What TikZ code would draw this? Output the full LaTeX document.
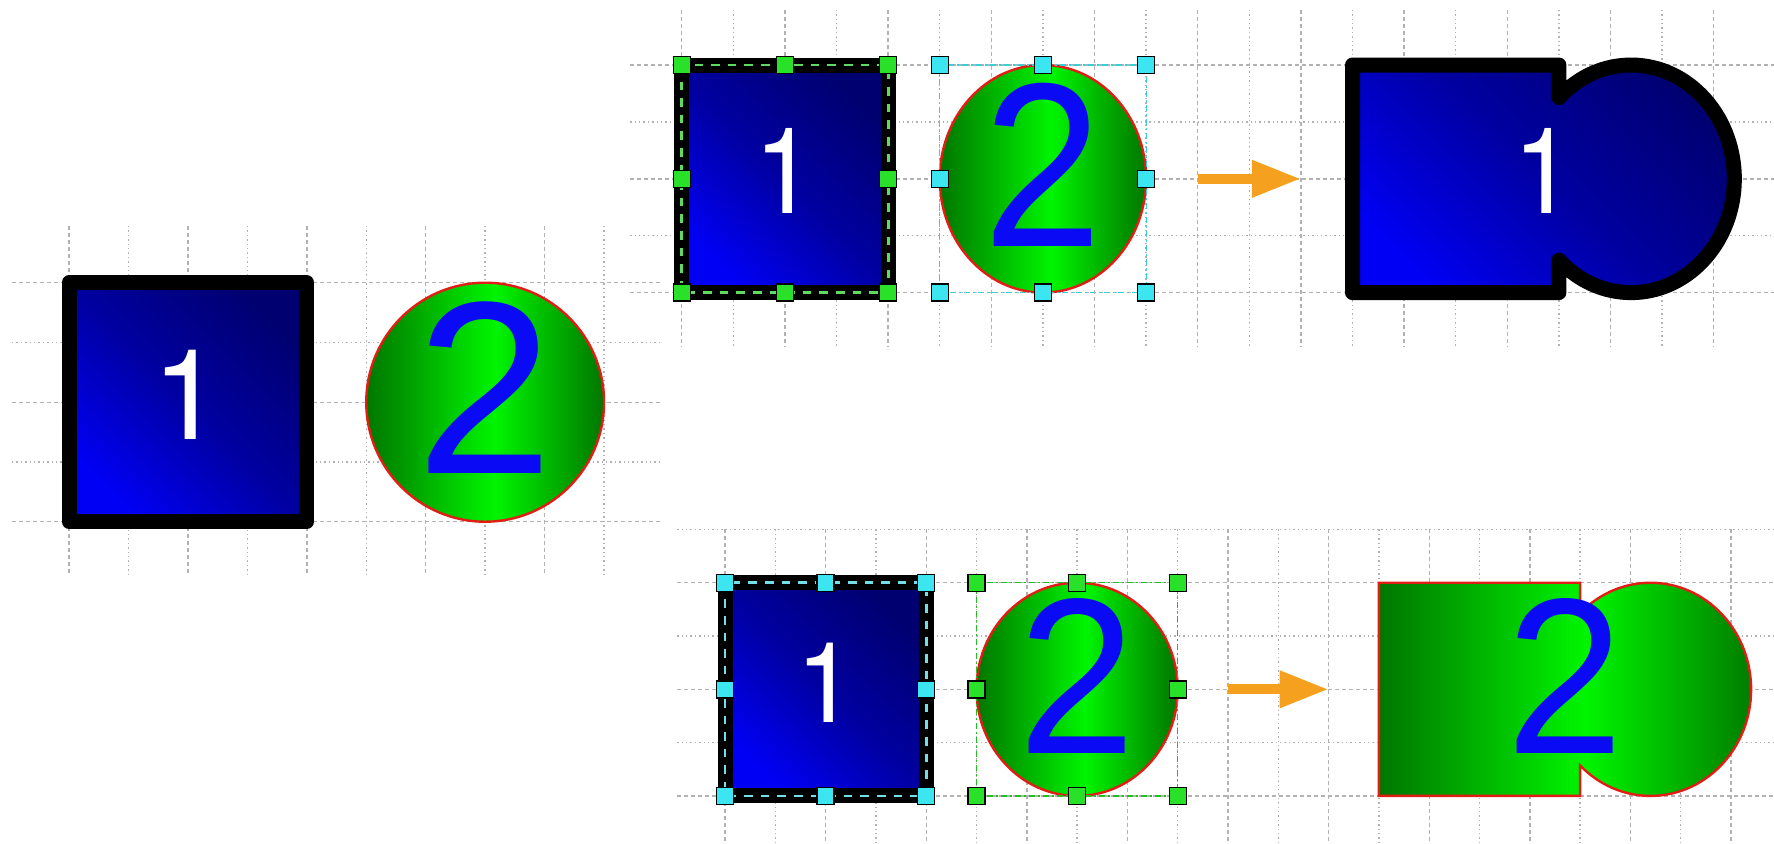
\documentclass[tikz,border=0pt]{standalone}
\usepackage{fontspec}
\usepackage{graphicx}
\usetikzlibrary{arrows.meta}
\setmainfont{TeX Gyre Heros}
\newfontfamily\onefont{TeX Gyre Heros}
\newfontfamily\twofont{Liberation Sans}
\definecolor{gridc}{RGB}{178,178,178}
\definecolor{bbright}{RGB}{0,0,245}
\definecolor{bmid}{RGB}{0,0,160}
\definecolor{bdark}{RGB}{0,0,112}
\definecolor{gdark}{RGB}{0,118,0}
\definecolor{glight}{RGB}{0,245,0}
\definecolor{redline}{RGB}{225,30,20}
\definecolor{hgreen}{RGB}{40,225,40}
\definecolor{hcyan}{RGB}{60,230,240}
\definecolor{dgreen}{RGB}{95,220,95}
\definecolor{dcyan}{RGB}{115,222,232}
\definecolor{arrowc}{RGB}{245,160,30}
\definecolor{digblue}{RGB}{10,10,245}
\pgfdeclarehorizontalshading{greenband}{100bp}{color(0bp)=(gdark); color(25bp)=(gdark); color(52bp)=(glight); color(75bp)=(gdark); color(100bp)=(gdark)}
\begin{document}
\begin{tikzpicture}[x=0.5pt,y=-0.5pt,
  gridmajor/.style={draw=gridc,line width=0.7pt,dash pattern=on 2pt off 1.5pt},
  gridminor/.style={draw=gridc,line width=0.7pt,dash pattern=on 0.7pt off 1.5pt},
  bluefill/.style={top color=bdark,bottom color=bbright,middle color=bmid,shading angle=-45},
  blackedge/.style={draw=black,line width=7.5pt,line join=round},
  greenfill/.style={shading=greenband},
  rededge/.style={draw=redline,line width=1.2pt},
  ghandle/.style={rectangle,draw=black,line width=0.7pt,fill=hgreen,minimum size=8.5pt,inner sep=0pt},
  chandle/.style={rectangle,draw=black,line width=0.7pt,fill=hcyan,minimum size=8.5pt,inner sep=0pt},
  gsel/.style={draw=dgreen,line width=1.4pt,dash pattern=on 4.3pt off 4pt},
  csel/.style={draw=dcyan,line width=1.4pt,dash pattern=on 4.3pt off 4pt},
  cbox/.style={draw=hcyan!90!black,line width=0.6pt,dash pattern=on 3pt off 1.5pt on 1pt off 1.5pt},
  gbox/.style={draw=hgreen!85!black,line width=0.6pt,dash pattern=on 3pt off 1.5pt on 1pt off 1.5pt},
  oarrow/.style={draw=arrowc,line width=5pt,-{Triangle[length=24.5pt,width=17.5pt]}},
  digit/.style={inner sep=0pt}]
\useasboundingbox (0,0) rectangle (1774,843);

% ---------------- scene 1 (left) ----------------
\begin{scope}[shift={(69,282.7)},x=29.725pt,y=-29.875pt]
  \foreach \i in {0,2,4,6,8} \draw[gridmajor] (\i,-0.95) -- (\i,4.9);
  \foreach \i in {1,3,5,7,9} \draw[gridminor] (\i,-0.95) -- (\i,4.9);
  \foreach \j in {0,2,4} \draw[gridmajor] (-0.96,\j) -- (9.95,\j);
  \foreach \j in {1,3} \draw[gridminor] (-0.96,\j) -- (9.95,\j);
  \shadedraw[bluefill,blackedge] (0,0) rectangle (4,4);
  \shadedraw[greenfill,rededge] (7,2) circle[x radius=2,y radius=2];
  \node[digit,text=white] (sone) at (2,1.87) {\onefont\fontsize{63}{63}\selectfont 1};
  \node[digit,text=digblue] (stwo) at (7,1.755) {\twofont\fontsize{123}{123}\selectfont 2};
\end{scope}

% ---------------- scene 2 (top) ----------------
\begin{scope}[shift={(681.7,65)},x=25.8pt,y=-28.45pt]
  \foreach \i in {0,2,...,20} \draw[gridmajor] (\i,-0.97) -- (\i,4.95);
  \foreach \i in {1,3,...,19} \draw[gridminor] (\i,-0.97) -- (\i,4.95);
  \foreach \j in {0,2,4} \draw[gridmajor] (-1,\j) -- (21.3,\j);
  \foreach \j in {1,3} \draw[gridminor] (-1,\j) -- (21.3,\j);
  \shadedraw[bluefill,blackedge] (0,0) rectangle (4,4);
  \draw[gsel] (0,0) rectangle (4,4);
  \shadedraw[greenfill,rededge] (7,2) circle[x radius=2,y radius=2];
  \draw[cbox] (5,0) rectangle (9,4);
  \node[digit,text=white] (tone) at (2,1.87) {\scalebox{0.912}[1]{\onefont\fontsize{60}{60}\selectfont 1}};
  \node[digit,text=digblue] (ttwo) at (7,1.755) {\scalebox{0.912}[1]{\twofont\fontsize{117}{117}\selectfont 2}};
  \foreach \p/\q in {0/0,2/0,4/0,0/2,4/2,0/4,2/4,4/4} \node[ghandle] (tg\p\q) at (\p,\q) {};
  \foreach \p/\q in {5/0,7/0,9/0,5/2,9/2,5/4,7/4,9/4} \node[chandle] (tc\p\q) at (\p,\q) {};
  \coordinate (tastart) at (10,2);
  \coordinate (taend) at (12,2);
  \draw[oarrow] (tastart) -- (taend);
  \shadedraw[bluefill,blackedge] (13,0) -- (17,0) -- (17,0.572)
     arc[start angle=-134.43,end angle=134.43,x radius=2,y radius=2]
     -- (17,4) -- (13,4) -- cycle;
  \node[digit,text=white] (tmerged) at (16.7,1.87) {\scalebox{0.912}[1]{\onefont\fontsize{60}{60}\selectfont 1}};
\end{scope}

% ---------------- scene 3 (bottom) ----------------
\begin{scope}[shift={(725,582.7)},x=25.15pt,y=-26.65pt]
  \foreach \i in {0,2,...,20} \draw[gridmajor] (\i,-1) -- (\i,4.95);
  \foreach \i in {1,3,...,19} \draw[gridminor] (\i,-1) -- (\i,4.95);
  \foreach \j in {0,2,4} \draw[gridmajor] (-0.95,\j) -- (21.2,\j);
  \foreach \j in {-1,1,3} \draw[gridminor] (-0.95,\j) -- (21.2,\j);
  \shadedraw[bluefill,blackedge] (0,0) rectangle (4,4);
  \draw[csel] (0,0) rectangle (4,4);
  \shadedraw[greenfill,rededge] (7,2) circle[x radius=2,y radius=2];
  \draw[gbox] (5,0) rectangle (9,4);
  \node[digit,text=white] (bone) at (2,1.87) {\scalebox{0.949}[1]{\onefont\fontsize{56}{56}\selectfont 1}};
  \node[digit,text=digblue] (btwo) at (7,1.755) {\scalebox{0.949}[1]{\twofont\fontsize{111}{111}\selectfont 2}};
  \foreach \p/\q in {0/0,2/0,4/0,0/2,4/2,0/4,2/4,4/4} \node[chandle] (bc\p\q) at (\p,\q) {};
  \foreach \p/\q in {5/0,7/0,9/0,5/2,9/2,5/4,7/4,9/4} \node[ghandle] (bg\p\q) at (\p,\q) {};
  \coordinate (bastart) at (10,2);
  \coordinate (baend) at (12,2);
  \draw[oarrow] (bastart) -- (baend);
  \shadedraw[greenfill,rededge] (13,0) -- (17,0) -- (17,0.572)
     arc[start angle=-134.43,end angle=134.43,x radius=2,y radius=2]
     -- (17,4) -- (13,4) -- cycle;
  \node[digit,text=digblue] (bmerged) at (16.7,1.755) {\scalebox{0.949}[1]{\twofont\fontsize{111}{111}\selectfont 2}};
\end{scope}
\end{tikzpicture}
\end{document}
